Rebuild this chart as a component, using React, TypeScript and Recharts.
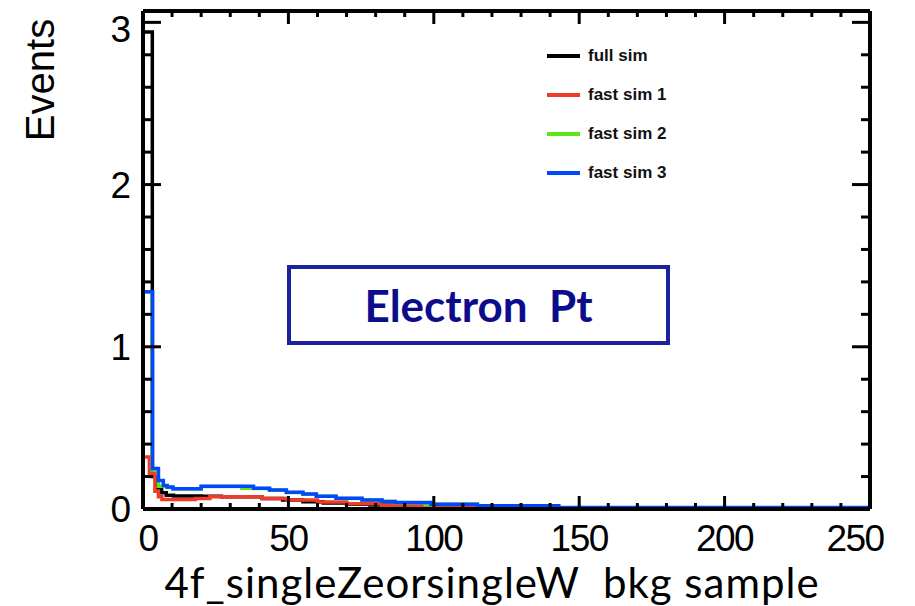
import React from "react";
import { LineChart, Line, XAxis, YAxis, Legend } from "recharts";

// histogram steps: [bin start, value], last entry closes the histogram
const fullSim: [number, number][] = [
  [0, 0], [0, 2.94], [3.2, 0.2], [4.7, 0.13], [6.4, 0.1], [8, 0.085], [10.5, 0.08],
  [20, 0.078], [27, 0.075], [41, 0.065], [48, 0.055], [55, 0.045], [62, 0.037],
  [70, 0.03], [78, 0.024], [86, 0.019], [95, 0.015], [105, 0.012], [120, 0.008],
  [135, 0.005], [143, 0],
];
const fastSim1: [number, number][] = [
  [0, 0], [0, 0.32], [2.2, 0.22], [4.1, 0.11], [5.3, 0.075], [6.5, 0.058], [18, 0.065],
  [23, 0.075], [41, 0.065], [49.5, 0.055], [60, 0.043], [70, 0.032], [82, 0.022],
  [98, 0.017], [103, 0.012], [120, 0.007], [143, 0],
];
const fastSim2: [number, number][] = [
  [0, 0], [0, 1.34], [3.2, 0.24], [5.3, 0.14], [7, 0.143], [8.3, 0.133], [10.3, 0.123],
  [20, 0.138], [34, 0.128], [38, 0.127], [43.5, 0.116], [49.3, 0.102], [55, 0.091],
  [59.6, 0.078], [66.4, 0.065], [75.3, 0.055], [82.2, 0.046], [86.7, 0.039], [97, 0.026],
  [99, 0.029], [115, 0.019], [139, 0.004], [143, 0],
];
const fastSim3: [number, number][] = [
  [0, 0], [0, 1.34], [3.3, 0.25], [5.3, 0.175], [7, 0.145], [8.3, 0.135], [10.3, 0.125],
  [20, 0.14], [38, 0.128], [43.5, 0.117], [49.3, 0.103], [55, 0.092], [59.6, 0.079],
  [66.4, 0.066], [75.3, 0.056], [82.2, 0.047], [86.7, 0.04], [99, 0.03], [115, 0.02],
  [143, 0.01], [250, 0.01],
];

const X_TICKS = [0, 10, 20, 30, 40, 50, 60, 70, 80, 90, 100, 110, 120, 130, 140, 150, 160, 170, 180, 190, 200, 210, 220, 230, 240, 250];
const Y_TICKS = [0, 0.2, 0.4, 0.6, 0.8, 1, 1.2, 1.4, 1.6, 1.8, 2, 2.2, 2.4, 2.6, 2.8, 3];
const X_MAJOR = [0, 50, 100, 150, 200, 250];

const toPoints = (arr: [number, number][]) => arr.map(([x, y]) => ({ x, y }));

const isInt = (v: number) => Math.abs(v - Math.round(v)) < 1e-6;

function BottomTick({ x, y, payload }: any) {
  const v = payload.value;
  const major = X_MAJOR.includes(v);
  // end labels are pulled inward like in the original slide
  const shift = v === 0 ? 5 : v === 250 ? -15 : 0;
  return (
    <g>
      <line x1={x} x2={x} y1={y} y2={y - (major ? 13 : 6)} stroke="#000" strokeWidth={3} />
      {major && (
        <text x={x + shift} y={y + 42} textAnchor="middle" fontFamily="Liberation Sans, Arial" fontSize={37}
          letterSpacing={-1.5} fill="#000">
          {v}
        </text>
      )}
    </g>
  );
}

function TopTick({ x, y, payload }: any) {
  const major = X_MAJOR.includes(payload.value);
  return <line x1={x} x2={x} y1={y} y2={y + (major ? 13 : 6)} stroke="#000" strokeWidth={3} />;
}

function LeftTick({ x, y, payload }: any) {
  const v = payload.value;
  const major = isInt(v);
  return (
    <g>
      <line x1={x} x2={x + (major ? 18 : 9)} y1={y} y2={y} stroke="#000" strokeWidth={3} />
      {major && (
        <text x={x - 12} y={Math.max(y, 29)} dy="0.36em" textAnchor="end" fontFamily="Liberation Sans, Arial" fontSize={37} fill="#000">
          {Math.round(v)}
        </text>
      )}
    </g>
  );
}

function RightTick({ x, y, payload }: any) {
  const major = isInt(payload.value);
  return <line x1={x} x2={x - (major ? 18 : 9)} y1={y} y2={y} stroke="#000" strokeWidth={3} />;
}

function renderLegend(props: any) {
  const { payload = [] } = props;
  return (
    <div style={{ fontFamily: "Liberation Sans, Arial", fontWeight: 700, fontSize: 17, color: "#111" }}>
      {payload.map((e: any) => (
        <div key={e.value} style={{ display: "flex", alignItems: "center", height: 39 }}>
          <span style={{ display: "inline-block", width: 33, height: 4, background: e.color, marginRight: 8 }} />
          {e.value}
        </div>
      ))}
    </div>
  );
}

const frame = { stroke: "#000", strokeWidth: 4 };

export default function App() {
  return (
    <div style={{ position: "absolute", left: 0, top: 0, width: 915, height: 606, background: "#fff" }}>
      <LineChart width={915} height={606} margin={{ top: 10, right: 44, bottom: 96, left: 142 }}>
        <XAxis xAxisId="b" type="number" dataKey="x" domain={[0, 250]} ticks={X_TICKS} interval={0}
          height={1} tickSize={0} tickMargin={0} tickLine={false} axisLine={frame} tick={<BottomTick />} allowDataOverflow />
        <XAxis xAxisId="t" orientation="top" type="number" dataKey="x" domain={[0, 250]} ticks={X_TICKS} interval={0}
          height={1} tickSize={0} tickMargin={0} tickLine={false} axisLine={frame} tick={<TopTick />} allowDataOverflow />
        <YAxis yAxisId="l" type="number" domain={[0, 3.07]} ticks={Y_TICKS} interval={0}
          width={1} tickSize={0} tickMargin={0} tickLine={false} axisLine={frame} tick={<LeftTick />} allowDataOverflow />
        <YAxis yAxisId="r" orientation="right" type="number" domain={[0, 3.07]} ticks={Y_TICKS} interval={0}
          width={1} tickSize={0} tickMargin={0} tickLine={false} axisLine={frame} tick={<RightTick />} allowDataOverflow />
        <Legend layout="vertical" align="center" verticalAlign="middle" content={renderLegend} itemSorter="dataKey"
          wrapperStyle={{ position: "absolute", left: 547, top: 36, width: 160, height: 160 }} />
        <Line xAxisId="b" yAxisId="l" data={toPoints(fullSim)} dataKey="y" name="full sim" type="stepAfter"
          stroke="#000000" strokeWidth={3.5} dot={false} isAnimationActive={false} />
        <Line xAxisId="b" yAxisId="l" data={toPoints(fastSim1)} dataKey="y" name="fast sim 1" type="stepAfter"
          stroke="#f03a2a" strokeWidth={3.5} dot={false} isAnimationActive={false} />
        <Line xAxisId="b" yAxisId="l" data={toPoints(fastSim2)} dataKey="y" name="fast sim 2" type="stepAfter"
          stroke="#5de516" strokeWidth={3.5} dot={false} isAnimationActive={false} />
        <Line xAxisId="b" yAxisId="l" data={toPoints(fastSim3)} dataKey="y" name="fast sim 3" type="stepAfter"
          stroke="#0047ff" strokeWidth={3.5} dot={false} isAnimationActive={false} />
      </LineChart>

      <div style={{ position: "absolute", left: 40, top: 80, transform: "translate(-50%, -50%) rotate(-90deg)",
        fontFamily: "Liberation Sans, Arial", fontSize: 40, whiteSpace: "nowrap", color: "#000" }}>
        Events
      </div>

      <div style={{ position: "absolute", left: 287, top: 265, width: 383, height: 80, boxSizing: "border-box",
        border: "4px solid #1a239c", display: "flex", alignItems: "center", justifyContent: "center",
        fontFamily: "Lato, Calibri, sans-serif", fontWeight: 700, fontSize: 44, color: "#0d0d8c", whiteSpace: "pre" }}>
        {"Electron  Pt"}
      </div>

      <div style={{ position: "absolute", left: 492, top: 582, transform: "translate(-50%, -50%)",
        fontFamily: "Lato, Calibri, sans-serif", fontSize: 42, letterSpacing: 1, whiteSpace: "pre", color: "#000" }}>
        {"4f_singleZeorsingleW  bkg sample"}
      </div>
    </div>
  );
}
